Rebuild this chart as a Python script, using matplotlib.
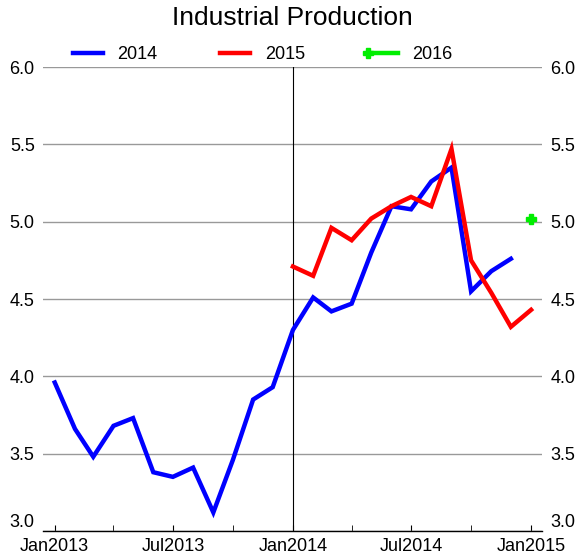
import pandas as pd
import matplotlib
matplotlib.use("Agg")
import matplotlib.pyplot as plt
import matplotlib.dates as mdates
import matplotlib.ticker as mticker
import matplotlib.transforms as mtrans

plt.rcParams['font.family'] = ['Liberation Sans', 'DejaVu Sans']

# monthly data
months_2014 = pd.date_range('2013-01-01', periods=24, freq='MS')
vals_2014 = [3.96, 3.66, 3.48, 3.68, 3.73, 3.38, 3.35, 3.41, 3.12, 3.46, 3.85, 3.93,
             4.30, 4.51, 4.42, 4.47, 4.80, 5.10, 5.08, 5.26, 5.35, 4.55, 4.68, 4.76]

months_2015 = pd.date_range('2014-01-01', periods=13, freq='MS')
vals_2015 = [4.71, 4.65, 4.96, 4.88, 5.02, 5.10, 5.16, 5.10, 5.47, 4.75, 4.54, 4.32, 4.43]

months_2016 = pd.date_range('2015-01-01', periods=1, freq='MS')
vals_2016 = [5.02]

y_ticks = [3.0, 3.5, 4.0, 4.5, 5.0, 5.5, 6.0]

fig = plt.figure(figsize=(5.83, 5.59), dpi=100)
ax = fig.add_axes([0.0738, 0.0501, 0.8562, 0.8300])

ax.plot(months_2014, vals_2014, color='#0000ff', lw=3.2, label='2014', solid_joinstyle='miter')
ax.plot(months_2015, vals_2015, color='#ff0000', lw=3.2, label='2015', solid_joinstyle='miter')
ax.plot(months_2016, vals_2016, color='#00ee00', lw=3.2, label='2016', marker='P',
        markersize=7)

ax.axvline(pd.Timestamp('2014-01-01'), color='black', lw=0.8, zorder=1)

ax.set_ylim(3.0, 6.0)
ax.set_xlim(pd.Timestamp('2012-12-14'), pd.Timestamp('2015-01-18'))
ax.set_yticks(y_ticks)
ax.yaxis.grid(True, color='#999999', lw=1)
ax.set_axisbelow(True)

for side in ['top', 'left', 'right']:
    ax.spines[side].set_visible(False)
ax.spines['bottom'].set_linewidth(1)

ax.xaxis.set_major_locator(mdates.MonthLocator(bymonth=[1, 7]))
ax.xaxis.set_major_formatter(mdates.DateFormatter('%b%Y'))
ax.xaxis.set_minor_locator(mdates.MonthLocator(bymonth=[4, 10]))
ax.tick_params(axis='x', which='both', direction='in', length=4, labelsize=13, pad=5)
ax.tick_params(axis='y', length=0, labelsize=13, labelleft=True, labelright=True, pad=6)

# the bottom label (3.0) sits above the axis line, so draw it separately
ymin = y_ticks[0]
ax.yaxis.set_major_formatter(mticker.FuncFormatter(
    lambda v, p: '' if abs(v - ymin) < 1e-9 else f'{v:.1f}'))
off = 6 / 72
ax.text(0, ymin, f'{ymin:.1f}', fontsize=13, ha='right', va='bottom',
        transform=ax.get_yaxis_transform() + mtrans.ScaledTranslation(-off, 0, fig.dpi_scale_trans))
ax.text(1, ymin, f'{ymin:.1f}', fontsize=13, ha='left', va='bottom',
        transform=ax.get_yaxis_transform() + mtrans.ScaledTranslation(off, 0, fig.dpi_scale_trans))

ax.set_title('Industrial Production', fontsize=19, pad=30)
leg = ax.legend(loc='lower center', bbox_to_anchor=(0.44, 1.0), ncol=3, frameon=False,
                fontsize=13, numpoints=1, handlelength=1.65, columnspacing=3.5,
                handletextpad=0.8, borderaxespad=-0.2)
leg.get_lines()[2].set_markevery([0])

fig.savefig('out.png', dpi=100)
